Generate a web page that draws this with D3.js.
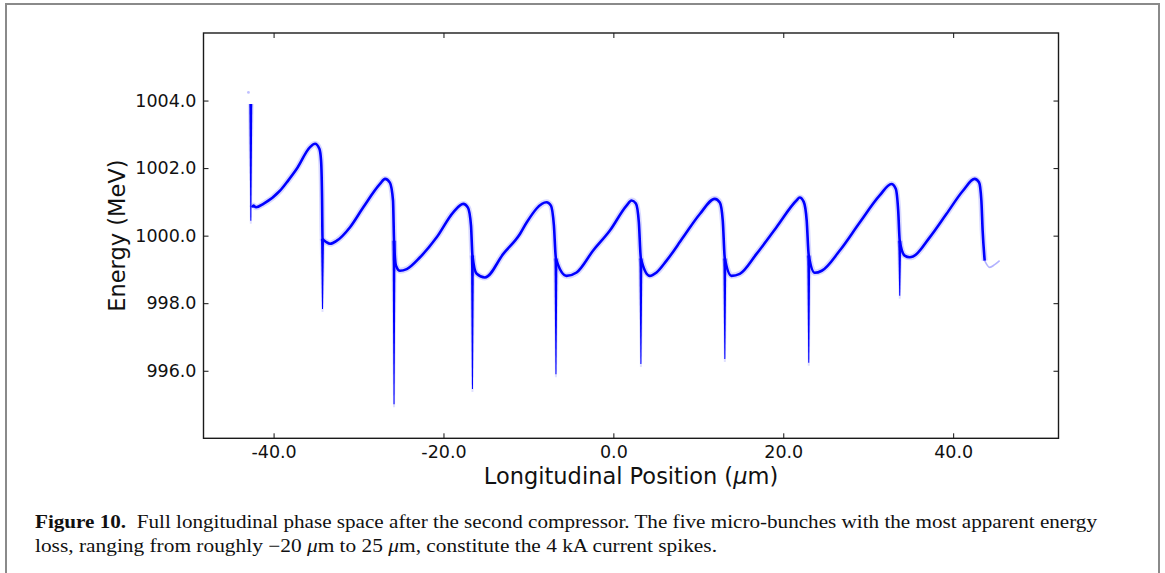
<!DOCTYPE html>
<html>
<head>
<meta charset="utf-8">
<style>
  body { margin: 0; background: #fff; }
  svg text { fill: #111; }
</style>
</head>
<body>
<div id="chart"></div>
<script src="https://cdn.jsdelivr.net/npm/d3@7"></script>
<script>
    // centre line of the phase space (position in um, energy in MeV)
    var posX = [-42.53, -42.38, -42.06, -41.2, -39.24, -38.29, -37.27, -35.71, -35.12, -34.61, -34.41, -34.29, -34.24,
                -33.74, -33.35, -32.56, -31.0, -29.44, -27.47, -26.88, -26.31, -25.94, -25.82, -25.59,
                -25.12, -24.33, -22.76, -20.8, -18.85, -17.67, -17.12, -16.76, -16.59,
                -16.09, -15.12, -12.96, -11.0, -10.21, -7.86, -7.35, -7.0, -6.76,
                -5.51, -4.33, -2.38, -0.41, 1.55, 2.14, 2.65, 3.0, 3.24,
                4.29, 5.08, 6.26, 8.21, 10.18, 11.94, 12.53, 12.88, 13.12,
                13.91, 14.88, 16.85, 19.2, 21.55, 21.94, 22.41, 22.76, 23.0,
                23.71, 24.53, 26.65, 29.0, 31.35, 32.73, 33.24, 33.53, 33.71,
                34.29, 34.88, 35.27, 37.24, 39.2, 41.15, 42.53, 43.04, 43.32, 43.47, 43.71];
    var energyMeV = [1000.83, 1000.89, 1000.84, 1000.94, 1001.33, 1001.63, 1001.98, 1002.62, 1002.72, 1002.57, 1002.22, 1001.04, 999.91,
                     999.80, 999.76, 999.85, 1000.25, 1000.84, 1001.53, 1001.68, 1001.57, 1001.04, 999.85, 999.11,
                     998.96, 999.01, 999.36, 999.95, 1000.69, 1000.94, 1000.83, 1000.3, 999.41,
                     998.87, 998.76, 999.46, 1000.05, 1000.39, 1000.99, 1000.89, 1000.3, 999.32,
                     998.81, 998.91, 999.56, 1000.15, 1000.89, 1001.04, 1000.95, 1000.39, 999.32,
                     998.81, 998.91, 999.26, 999.95, 1000.64, 1001.09, 1000.98, 1000.44, 999.32,
                     998.81, 998.87, 999.46, 1000.25, 1001.04, 1001.13, 1001.0, 1000.44, 999.41,
                     998.9, 998.96, 999.56, 1000.39, 1001.19, 1001.53, 1001.39, 1000.74, 999.85,
                     999.41, 999.36, 999.38, 999.95, 1000.64, 1001.33, 1001.68, 1001.58, 1001.04, 1000.15, 999.26];

    // sparse tail at the head of the bunch
    var tailX = [43.71, 44.29, 44.88, 45.47];
    var tailE = [999.26, 999.06, 999.14, 999.26];

    // energy-loss spikes at each micro-bunch edge
    var spikeX = [-42.68, -34.24, -25.82, -16.59, -6.76, 3.24, 13.12, 23.0, 33.71];
    var spikeTop = [1003.9, 999.91, 999.85, 999.41, 999.32, 999.32, 999.32, 999.41, 999.85];
    var spikeBottom = [1000.44, 997.83, 995.01, 995.46, 995.9, 996.2, 996.35, 996.24, 998.22];

    var strayX = [-42.96];
    var strayE = [1004.24];

    var xTicks = [-40, -20, 0, 20, 40];
    var yTicks = [996, 998, 1000, 1002, 1004];
    var xLimits = [-48.25, 52.4];
    var yLimits = [994, 1006];

    var W = 1165,
        H = 573,
        padL = 203.5, padR = 1058.5, padT = 33, padB = 438.3,
        blue = '#0000ff';

    var svg = d3.select('#chart')
        .append('svg')
        .attr('width', W)
        .attr('height', H);

    // page frame
    svg.append('rect')
        .attr('x', 6).attr('y', 4)
        .attr('width', 1153).attr('height', 620)
        .attr('fill', 'none')
        .attr('stroke', '#8a8a8a')
        .attr('stroke-width', 2);

    var x = d3.scaleLinear().domain(xLimits).range([padL, padR]);
    var y = d3.scaleLinear().domain(yLimits).range([padB, padT]);

    svg.append('clipPath').attr('id', 'plotclip')
        .append('rect')
        .attr('x', padL).attr('y', padT)
        .attr('width', padR - padL).attr('height', padB - padT);

    var plot = svg.append('g').attr('clip-path', 'url(#plotclip)');

    var pts = posX.map(function(d, i) { return [d, energyMeV[i]]; });
    var tail = tailX.map(function(d, i) { return [d, tailE[i]]; });

    var line = d3.line()
        .x(function(d) { return x(d[0]); })
        .y(function(d) { return y(d[1]); })
        .curve(d3.curveMonotoneX);

    // spikes
    spikeX.forEach(function(sx, i) {
        var cx = x(sx), yt = y(spikeTop[i]), yb = y(spikeBottom[i]);
        plot.append('path')
            .attr('d', 'M' + (cx - 3) + ',' + yt + 'L' + (cx + 3) + ',' + yt +
                       'L' + (cx + 1) + ',' + (yb + 3) + 'L' + (cx - 1) + ',' + (yb + 3) + 'Z')
            .attr('fill', blue)
            .attr('opacity', 0.12);
        plot.append('path')
            .attr('d', 'M' + (cx - 1.5) + ',' + yt + 'L' + (cx + 1.5) + ',' + yt +
                       'L' + (cx + 0.5) + ',' + yb + 'L' + (cx - 0.5) + ',' + yb + 'Z')
            .attr('fill', blue);
    });

    // halo + core of the centre line
    plot.append('path')
        .datum(pts)
        .attr('d', line)
        .attr('fill', 'none')
        .attr('stroke', blue)
        .attr('stroke-opacity', 0.15)
        .attr('stroke-width', 6)
        .attr('stroke-linejoin', 'round');

    plot.append('path')
        .datum(pts)
        .attr('d', line)
        .attr('fill', 'none')
        .attr('stroke', blue)
        .attr('stroke-width', 2.6)
        .attr('stroke-linejoin', 'round');

    plot.append('path')
        .datum(tail)
        .attr('d', line)
        .attr('fill', 'none')
        .attr('stroke', blue)
        .attr('stroke-opacity', 0.3)
        .attr('stroke-width', 1.6);

    plot.selectAll('circle.stray')
        .data(strayX)
        .enter().append('circle')
        .attr('class', 'stray')
        .attr('cx', function(d) { return x(d); })
        .attr('cy', function(d, i) { return y(strayE[i]); })
        .attr('r', 1.4)
        .attr('fill', blue)
        .attr('opacity', 0.25);

    // axes, ticks inward on all four sides
    var fmt = function(d) { return d3.format('.1f')(d).replace('\u2212', '-'); };
    var tickFont = 'DejaVu Sans, sans-serif';

    function styleAxis(g, showText) {
        g.select('.domain').remove();
        g.selectAll('.tick line').attr('stroke', '#111').attr('stroke-width', 1);
        g.selectAll('.tick text')
            .style('font-family', tickFont)
            .style('font-size', '17.5px')
            .attr('fill', '#111');
        if (!showText) g.selectAll('.tick text').remove();
    }

    svg.append('g')
        .attr('transform', 'translate(0,' + padB + ')')
        .call(d3.axisBottom(x).tickValues(xTicks).tickFormat(fmt).tickSize(-5).tickPadding(7))
        .call(styleAxis, true);
    svg.append('g')
        .attr('transform', 'translate(0,' + padT + ')')
        .call(d3.axisTop(x).tickValues(xTicks).tickSize(-5))
        .call(styleAxis, false);
    svg.append('g')
        .attr('transform', 'translate(' + padL + ',0)')
        .call(d3.axisLeft(y).tickValues(yTicks).tickFormat(fmt).tickSize(-5).tickPadding(7))
        .call(styleAxis, true);
    svg.append('g')
        .attr('transform', 'translate(' + padR + ',0)')
        .call(d3.axisRight(y).tickValues(yTicks).tickSize(-5))
        .call(styleAxis, false);

    svg.append('rect')
        .attr('x', padL).attr('y', padT)
        .attr('width', padR - padL).attr('height', padB - padT)
        .attr('fill', 'none')
        .attr('stroke', '#1a1a1a')
        .attr('stroke-width', 1.4);

    // axis labels
    var xl = svg.append('text')
        .attr('x', (padL + padR) / 2)
        .attr('y', 484)
        .attr('text-anchor', 'middle')
        .style('font-family', tickFont)
        .style('font-size', '22.5px');
    xl.append('tspan').text('Longitudinal Position (');
    xl.append('tspan').style('font-style', 'italic').text('μ');
    xl.append('tspan').text('m)');

    svg.append('text')
        .attr('transform', 'translate(125,' + ((padT + padB) / 2) + ') rotate(-90)')
        .attr('text-anchor', 'middle')
        .style('font-family', tickFont)
        .style('font-size', '22.5px')
        .text('Energy (MeV)');

    // caption
    var capFont = 'Liberation Serif, Times New Roman, serif';
    var c1 = svg.append('text')
        .attr('x', 35).attr('y', 528)
        .attr('textLength', 1062)
        .attr('lengthAdjust', 'spacingAndGlyphs')
        .style('font-family', capFont)
        .style('font-size', '18px');
    c1.append('tspan').style('font-weight', 'bold').text('Figure 10.');
    c1.append('tspan').text('\u00a0\u00a0Full longitudinal phase space after the second compressor. The five micro-bunches with the most apparent energy');

    var c2 = svg.append('text')
        .attr('x', 35).attr('y', 552)
        .attr('textLength', 682)
        .attr('lengthAdjust', 'spacingAndGlyphs')
        .style('font-family', capFont)
        .style('font-size', '18px');
    c2.append('tspan').text('loss, ranging from roughly \u221220 ');
    c2.append('tspan').style('font-style', 'italic').text('μ');
    c2.append('tspan').text('m to 25 ');
    c2.append('tspan').style('font-style', 'italic').text('μ');
    c2.append('tspan').text('m, constitute the 4 kA current spikes.');
</script>
</body>
</html>
